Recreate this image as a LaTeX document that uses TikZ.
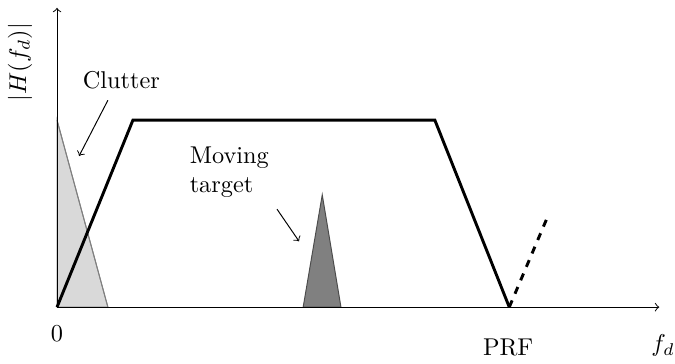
\documentclass[tikz,border=0pt]{standalone}
\usetikzlibrary{positioning}
\tikzset{
  axis/.style={->},
  filter/.style={very thick},
  clutterfill/.style={draw=gray,fill=gray!30},
  targetfill/.style={draw=black!70,fill=gray},
  note/.style={->}
}

\begin{document}
\begin{tikzpicture}[x=0.541cm,y=0.541cm]
\useasboundingbox (-1.524,-1.50) rectangle (16.52,8.21);
% spectra
\fill[clutterfill] (0,5) -- (1.36,0) -- (0,0) -- cycle;
\fill[targetfill] (6.58,0) -- (7.09,3) -- (7.59,0) -- cycle;
\draw[gray] (0,5) -- (1.36,0);
% axes
\coordinate (o) at (0,0);
\draw[axis] (o) -- (16.1,0) coordinate (xend);
\draw[axis] (o) -- (0,8) coordinate (yend);
\node[below=4pt of o] (zero) {$0$};
\node at (12.06,-1.07) (prf) {PRF};
\node at (16.2,-1.02) (fd) {$f_d$};
\node[rotate=90] at (-0.99,6.55) (hlab) {$|H(f_d)|$};
% filter response
\draw[filter] (o) -- (2.03,5) -- (10.1,5) -- (12.09,0) coordinate (prfpt);
\draw[filter,dashed] (prfpt) -- (13.15,2.5);
% labels
\node at (1.72,6.07) (clutter) {Clutter};
\coordinate (cl-tail) at (1.36,5.53);
\coordinate (cl-tip) at (0.59,4.04);
\draw[note] (cl-tail) -- (cl-tip);
\node[align=left,anchor=west] at (3.32,3.6) (target) {Moving\\target};
\coordinate (mt-tail) at (5.88,2.62);
\coordinate (mt-tip) at (6.47,1.76);
\draw[note] (mt-tail) -- (mt-tip);
\end{tikzpicture}
\end{document}
